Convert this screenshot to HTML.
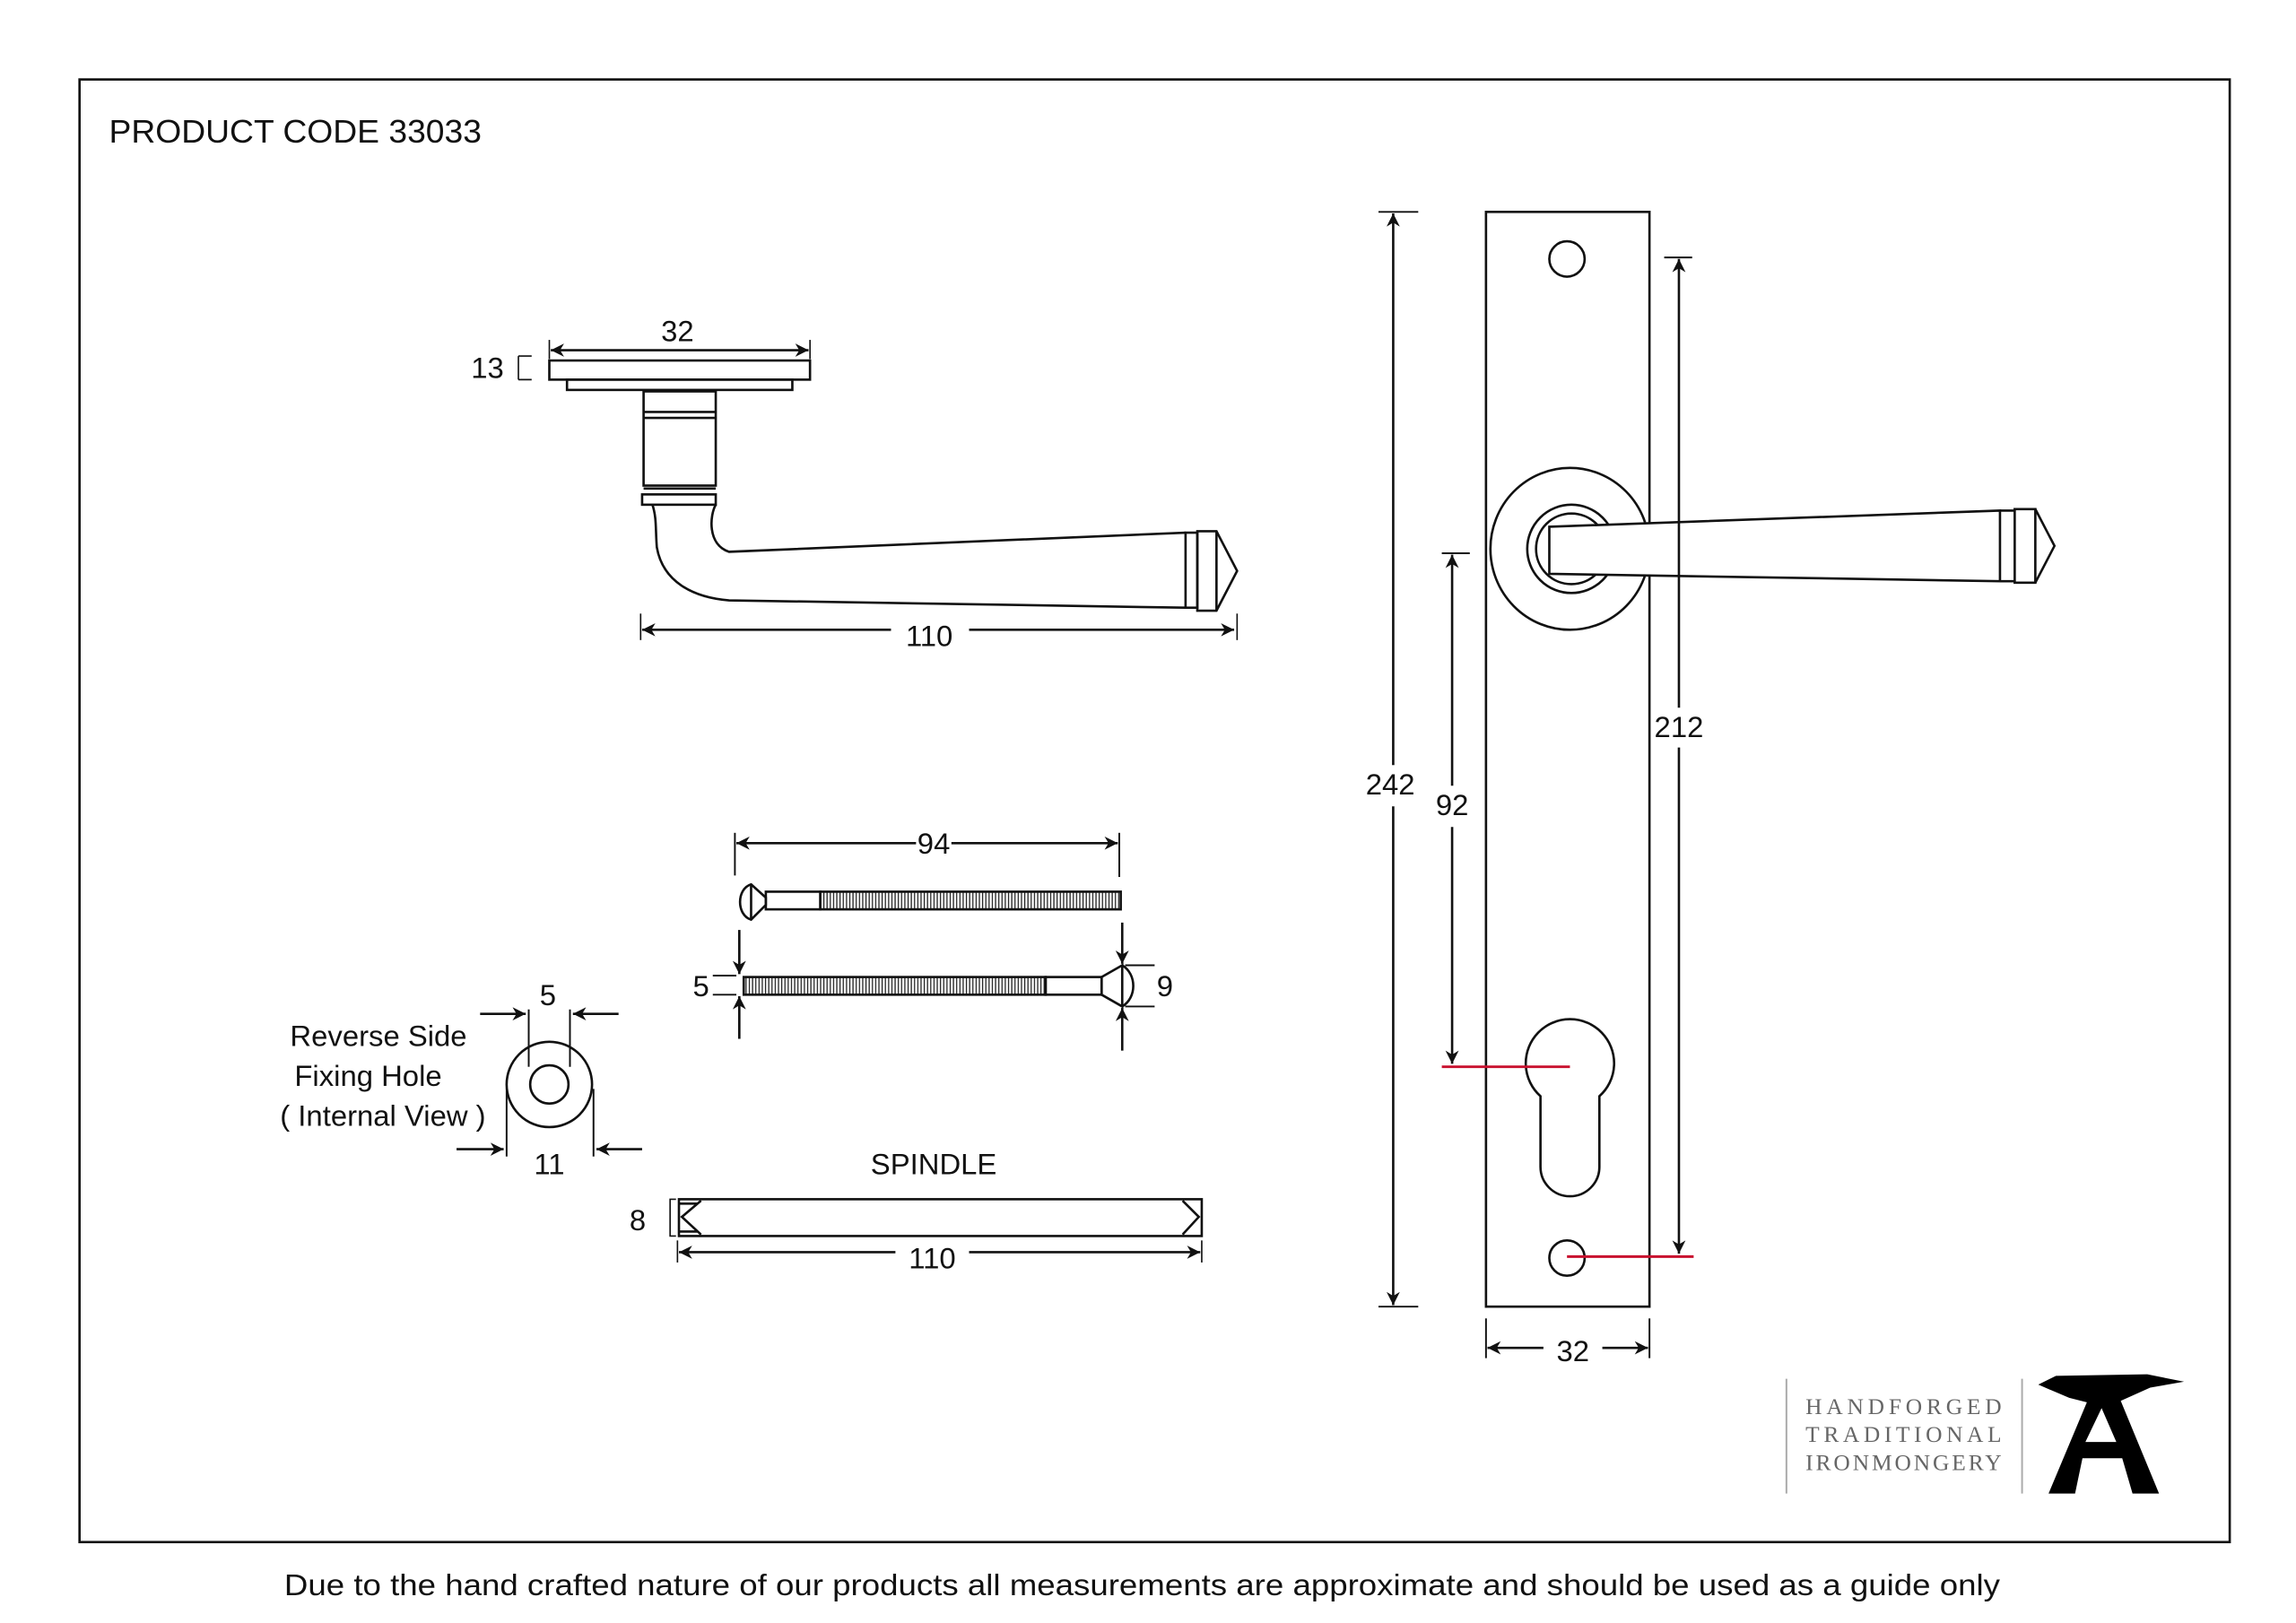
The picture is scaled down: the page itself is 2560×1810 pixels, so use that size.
<!DOCTYPE html>
<html><head><meta charset="utf-8"><style>
html,body{margin:0;padding:0;background:#fff;}
svg{display:block;}
text{font-family:"Liberation Sans",sans-serif;fill:#111;}
</style></head><body>
<svg width="2560" height="1810" viewBox="0 0 1559 1103" preserveAspectRatio="none" xmlns="http://www.w3.org/2000/svg">
<defs>
<marker id="a" viewBox="0 0 10 10" refX="10" refY="5" markerWidth="9" markerHeight="9" markerUnits="userSpaceOnUse" orient="auto-start-reverse"><path d="M0,0 L10,5 L0,10 L3,5z" fill="#111"/></marker>
<pattern id="th" width="2.2" height="10" patternUnits="userSpaceOnUse"><rect width="2.2" height="10" fill="#fff"/><line x1="0.6" y1="0" x2="0.6" y2="10" stroke="#222" stroke-width="0.8"/></pattern>
</defs>
<rect width="1559" height="1103" fill="#fff"/>
<rect x="54" y="54" width="1460" height="994" fill="none" stroke="#111" stroke-width="1.6"/>
<text x="74" y="97" font-size="22" textLength="253" lengthAdjust="spacingAndGlyphs">PRODUCT CODE  33033</text>
<text x="193" y="1084" font-size="20.5" textLength="1165" lengthAdjust="spacingAndGlyphs">Due to the hand crafted nature of our products all measurements are approximate and should be used as a guide only</text>

<g fill="none" stroke="#111" stroke-width="1.6">
<rect x="373" y="245" width="177" height="13" fill="#fff"/>
<rect x="385" y="258" width="153" height="7"/>
<rect x="437" y="266" width="49" height="64"/>
<line x1="437" y1="280" x2="486" y2="280"/><line x1="437" y1="284" x2="486" y2="284"/>
<rect x="436" y="336" width="50" height="7"/><line x1="437" y1="332" x2="486" y2="332"/>
<path d="M443,343 C446,352 445,360 446,372 C450,395 470,406 495,408 L805,413"/>
<path d="M486,343 C482,350 480,370 495,375 L805,362"/>
<rect x="805" y="362" width="8" height="51"/>
<path d="M813,361 L826,361 L840,388 L826,415 L813,415z"/>
<line x1="826" y1="361" x2="826" y2="415"/>
<line x1="373" y1="231" x2="373" y2="244" stroke-width="1"/><line x1="550" y1="231" x2="550" y2="244" stroke-width="1"/>
<line x1="374" y1="238" x2="549" y2="238" marker-start="url(#a)" marker-end="url(#a)"/>
<path d="M361,242 L352,242 M352,242 L352,258 M352,258 L361,258" stroke-width="1"/>
<line x1="435" y1="417" x2="435" y2="435" stroke-width="1"/><line x1="840" y1="417" x2="840" y2="435" stroke-width="1"/>
<line x1="436" y1="428" x2="605" y2="428" marker-start="url(#a)"/>
<line x1="658" y1="428" x2="838" y2="428" marker-end="url(#a)"/>

<path d="M510,601 C500,604 500,622 510,625 L520,615 L520,610z"/>
<line x1="510" y1="601" x2="510" y2="625"/>
<rect x="520" y="606" width="37" height="12"/>
<rect x="557" y="606" width="204" height="12" fill="url(#th)"/>
<line x1="499" y1="566" x2="499" y2="595" stroke-width="1.2"/><line x1="760" y1="566" x2="760" y2="596" stroke-width="1.2"/>
<line x1="500" y1="573" x2="622" y2="573" marker-start="url(#a)"/>
<line x1="646" y1="573" x2="759" y2="573" marker-end="url(#a)"/>
<rect x="505" y="664" width="205" height="12" fill="url(#th)"/>
<rect x="710" y="664" width="38" height="12"/>
<path d="M748,664 L762,656 L762,684 L748,676z"/>
<path d="M762,656 C772,662 772,678 762,684"/>
<line x1="484" y1="663" x2="500" y2="663" stroke-width="1.2"/><line x1="484" y1="676" x2="500" y2="676" stroke-width="1.2"/>
<line x1="502" y1="632" x2="502" y2="662" marker-end="url(#a)"/>
<line x1="502" y1="706" x2="502" y2="677" marker-end="url(#a)"/>
<line x1="764" y1="656" x2="784" y2="656" stroke-width="1.2"/><line x1="764" y1="684" x2="784" y2="684" stroke-width="1.2"/>
<line x1="762" y1="627" x2="762" y2="655" marker-end="url(#a)"/>
<line x1="762" y1="714" x2="762" y2="685" marker-end="url(#a)"/>

<rect x="461" y="815" width="355" height="25"/>
<path d="M461,818 L474,818 M461,837 L474,837 M476,816 L463,827 L476,839 M803,816 L814,827 L803,839"/>
<path d="M459,815 L455,815 L455,840 L459,840" stroke-width="1"/>
<line x1="460" y1="843" x2="460" y2="858" stroke-width="1"/><line x1="816" y1="843" x2="816" y2="858" stroke-width="1"/>
<line x1="461" y1="851" x2="608" y2="851" marker-start="url(#a)"/>
<line x1="658" y1="851" x2="815" y2="851" marker-end="url(#a)"/>

<circle cx="373" cy="737" r="29"/>
<circle cx="373" cy="737" r="13"/>
<line x1="359" y1="686" x2="359" y2="725" stroke-width="1.2"/><line x1="387" y1="686" x2="387" y2="725" stroke-width="1.2"/>
<line x1="326" y1="689" x2="357" y2="689" marker-end="url(#a)"/>
<line x1="420" y1="689" x2="389" y2="689" marker-end="url(#a)"/>
<line x1="344" y1="740" x2="344" y2="786" stroke-width="1.2"/><line x1="403" y1="740" x2="403" y2="786" stroke-width="1.2"/>
<line x1="310" y1="781" x2="342" y2="781" marker-end="url(#a)"/>
<line x1="436" y1="781" x2="405" y2="781" marker-end="url(#a)"/>

<rect x="1009" y="144" width="111" height="744"/>
<circle cx="1064" cy="176" r="12"/>
<ellipse cx="1066" cy="373" rx="54" ry="55" fill="#fff"/>
<circle cx="1067" cy="373" r="30"/>
<circle cx="1067" cy="373" r="24"/>
<path d="M1052,358 L1358,347 L1358,395 L1052,390z" fill="#fff"/>
<line x1="1358" y1="347" x2="1368" y2="347"/><line x1="1358" y1="395" x2="1368" y2="395"/>
<rect x="1368" y="346" width="14" height="50"/>
<path d="M1382,346 L1395,371 L1382,396"/>
<path d="M1046,745 A30,30 0 1 1 1086,745 L1086,793 A20,20 0 0 1 1046,793z"/>
<circle cx="1064" cy="855" r="12"/>
<line x1="936" y1="144" x2="963" y2="144" stroke-width="1.2"/><line x1="936" y1="888" x2="963" y2="888" stroke-width="1.2"/>
<line x1="946" y1="145" x2="946" y2="520" marker-start="url(#a)"/>
<line x1="946" y1="548" x2="946" y2="887" marker-end="url(#a)"/>
<line x1="979" y1="376" x2="998" y2="376" stroke-width="1.2"/>
<line x1="986" y1="377" x2="986" y2="534" marker-start="url(#a)"/>
<line x1="986" y1="562" x2="986" y2="723" marker-end="url(#a)"/>
<line x1="1130" y1="175" x2="1149" y2="175" stroke-width="1.2"/>
<line x1="1140" y1="176" x2="1140" y2="481" marker-start="url(#a)"/>
<line x1="1140" y1="508" x2="1140" y2="852" marker-end="url(#a)"/>
<line x1="1009" y1="896" x2="1009" y2="923" stroke-width="1.2"/><line x1="1120" y1="896" x2="1120" y2="923" stroke-width="1.2"/>
<line x1="1010" y1="916" x2="1048" y2="916" marker-start="url(#a)"/>
<line x1="1088" y1="916" x2="1119" y2="916" marker-end="url(#a)"/>
</g>
<line x1="979" y1="725" x2="1066" y2="725" stroke="#c8102e" stroke-width="1.8"/>
<line x1="1064" y1="854" x2="1150" y2="854" stroke="#c8102e" stroke-width="1.8"/>

<g font-size="20" text-anchor="middle">
<text x="460" y="232">32</text>
<text x="331" y="257">13</text>
<text x="631" y="439">110</text>
<text x="634" y="580">94</text>
<text x="476" y="677">5</text>
<text x="791" y="677">9</text>
<text x="634" y="798">SPINDLE</text>
<text x="433" y="836">8</text>
<text x="633" y="862">110</text>
<text x="372" y="683">5</text>
<text x="373" y="798">11</text>
<text x="257" y="711">Reverse Side</text>
<text x="250" y="738">Fixing Hole</text>
<text x="260" y="765">( Internal View )</text>
<text x="944" y="540">242</text>
<text x="986" y="554">92</text>
<text x="1140" y="501">212</text>
<text x="1068" y="925">32</text>
</g>

<line x1="1213" y1="937" x2="1213" y2="1015" stroke="#aaa" stroke-width="1.2"/>
<line x1="1373" y1="937" x2="1373" y2="1015" stroke="#aaa" stroke-width="1.2"/>
<g font-size="15.5">
<text x="1226" y="961" textLength="133" lengthAdjust="spacing" style="font-family:'Liberation Serif',serif;fill:#666">HANDFORGED</text>
<text x="1226" y="980" textLength="133" lengthAdjust="spacing" style="font-family:'Liberation Serif',serif;fill:#666">TRADITIONAL</text>
<text x="1226" y="999" textLength="133" lengthAdjust="spacing" style="font-family:'Liberation Serif',serif;fill:#666">IRONMONGERY</text>
</g>
<path fill-rule="evenodd" fill="#000" d="M1384,941 L1396,935 L1458,934 L1483,939 L1460,943 L1440,952 L1466,1015 L1448,1015 L1441,991 L1414,991 L1409,1015 L1391,1015 L1417,953 L1405,950z M1427,957 L1416,980 L1437,980z"/>
</svg>
</body></html>
